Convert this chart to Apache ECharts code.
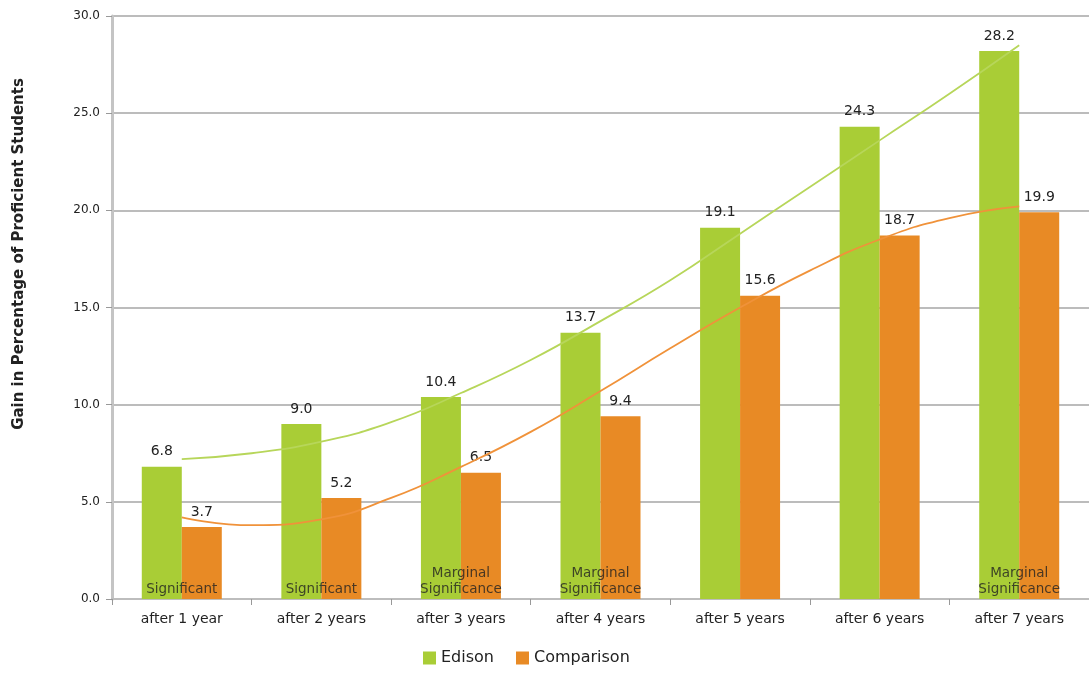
<!DOCTYPE html>
<html>
<head>
<meta charset="utf-8">
<script src="https://cdn.jsdelivr.net/npm/echarts@6/dist/echarts.min.js"></script>
<style>
html,body{margin:0;padding:0;background:#fff;}
#chart{width:1089px;height:673px;}
</style>
</head>
<body>
<div id="chart"></div>
<script>
const categories = ['after 1 year','after 2 years','after 3 years','after 4 years','after 5 years','after 6 years','after 7 years'];
const edison = [6.8, 9.0, 10.4, 13.7, 19.1, 24.3, 28.2];
const comparison = [3.7, 5.2, 6.5, 9.4, 15.6, 18.7, 19.9];
const significance = ['Significant','Significant','Marginal\nSignificance','Marginal\nSignificance','','','Marginal\nSignificance'];
const yAxisTitle = 'Gain in Percentage of Proficient Students';
// trend lines: [category position, value]
const edisonTrend = [[1,7.2],[1.5,7.5],[2,8.1],[2.5,9.1],[3,10.6],[3.5,12.3],[4,14.3],[4.5,16.4],[5,18.8],[5.5,21.2],[6,23.6],[6.5,26.0],[7,28.5]];
const comparisonTrend = [[1,4.2],[1.5,3.8],[2,4.1],[2.5,5.2],[3,6.8],[3.5,8.6],[4,10.7],[4.5,12.9],[5,15.0],[5.5,16.9],[6,18.5],[6.5,19.6],[7,20.2]];
const yTicks = {min:0, max:30, interval:5};

const FONT = 'DejaVu Sans';
const GREEN = '#A9CD36';
const ORANGE = '#E88A25';

const chart = echarts.init(document.getElementById('chart'));
chart.setOption({
  animation:false,
  textStyle:{fontFamily:FONT},
  grid:{left:112, right:-7, top:16, bottom:74},
  graphic:[{
    type:'text', x:19, y:254, rotation:Math.PI/2,
    style:{text:yAxisTitle, fontFamily:FONT, fontSize:15, fontWeight:'bold', fill:'#222',
      textAlign:'center', textVerticalAlign:'middle'}
  }],
  legend:{
    data:['Edison','Comparison'],
    left:418, bottom:2,
    itemWidth:13, itemHeight:13, itemGap:22,
    icon:'rect',
    textStyle:{fontFamily:FONT, fontSize:16, color:'#222'}
  },
  xAxis:[{
    type:'category', data:categories,
    axisLine:{lineStyle:{color:'#bdbdbd', width:2}},
    axisTick:{show:true, alignWithLabel:false, length:6, lineStyle:{color:'#999'}},
    axisLabel:{fontFamily:FONT, fontSize:14, color:'#222', margin:13}
  },{
    type:'value', min:0.5, max:7.5, show:false
  }],
  yAxis:{
    type:'value', min:yTicks.min, max:yTicks.max, interval:yTicks.interval,
    axisLine:{show:true, lineStyle:{color:'#c4c4c4', width:3}},
    axisTick:{show:true, length:6, lineStyle:{color:'#999'}},
    axisLabel:{fontFamily:FONT, fontSize:12, color:'#222', margin:12, formatter:v=>v.toFixed(1)},
    splitLine:{lineStyle:{color:'#a6a6a6', width:1.5}}
  },
  series:[
    {
      name:'Edison', type:'bar', data:edison, barWidth:40, barGap:'0%',
      itemStyle:{color:GREEN},
      label:{show:true, position:'top', distance:8, fontFamily:FONT, fontSize:14, color:'#222', formatter:p=>p.value.toFixed(1)}
    },
    {
      name:'Comparison', type:'bar', data:comparison, barWidth:40,
      itemStyle:{color:ORANGE},
      label:{show:true, position:'top', distance:8, fontFamily:FONT, fontSize:14, color:'#222', formatter:p=>p.value.toFixed(1)}
    },
    {
      name:'sig', type:'scatter', data:significance.map(()=>0), symbolSize:0, z:5,
      label:{show:true, position:'top', distance:2, fontFamily:FONT, fontSize:13.5, lineHeight:16, color:'#222',
        formatter:p=>significance[p.dataIndex]},
      silent:true
    },
    {
      name:'Edison trend', type:'line', xAxisIndex:1, data:edisonTrend, smooth:true, symbol:'none', z:4,
      lineStyle:{color:'#B7D65A', width:1.8}, silent:true
    },
    {
      name:'Comparison trend', type:'line', xAxisIndex:1, data:comparisonTrend, smooth:true, symbol:'none', z:4,
      lineStyle:{color:'#F0923A', width:1.8}, silent:true
    }
  ]
});
</script>
</body>
</html>
